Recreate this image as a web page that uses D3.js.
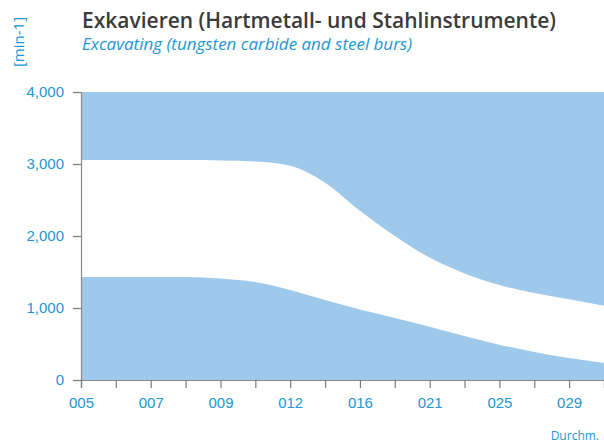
<!DOCTYPE html>
<html>
<head>
<meta charset="utf-8">
<script src="https://cdn.jsdelivr.net/npm/d3@7"></script>
<style>
  html, body { margin: 0; padding: 0; background: #ffffff; }
  svg { display: block; }
</style>
</head>
<body>
<script>
// Bur diameters (ISO size codes) along the x axis
const diameters = ["005","006","007","008","009","010","012","014","016","018","021","023","025","027","029","031"];
// Upper limit of the recommended speed window (min-1)
const upperSpeed = [3055,3055,3055,3055,3050,3035,2975,2740,2350,2000,1700,1480,1320,1210,1120,1030];
// Lower limit of the recommended speed window (min-1)
const lowerSpeed = [1430,1430,1430,1430,1410,1360,1250,1110,980,860,740,610,490,390,305,235];
const yTicks = [0,1000,2000,3000,4000];
const yMax = 4000;

const W = 604, H = 445;
const margin = {left: 81, right: 0, top: 92, bottom: 65};
const blue = "#9fc9ea";
const textBlue = "#2396d6";

const svg = d3.select("body").append("svg").attr("width", W).attr("height", H);

const x = d3.scalePoint().domain(diameters).range([margin.left, W - margin.right]);
const y = d3.scaleLinear().domain([0, yMax]).range([H - margin.bottom, margin.top]);

const rows = diameters.map((d, i) => ({d, up: upperSpeed[i], lo: lowerSpeed[i]}));

// Band above the window: from the upper limit to the top of the scale
const areaTop = d3.area()
  .x(r => x(r.d))
  .y0(r => y(r.up))
  .y1(() => y(yMax))
  .curve(d3.curveMonotoneX);

// Band below the window: from zero to the lower limit
const areaBottom = d3.area()
  .x(r => x(r.d))
  .y0(() => y(0))
  .y1(r => y(r.lo))
  .curve(d3.curveMonotoneX);

svg.append("path").datum(rows).attr("d", areaTop).attr("fill", blue);
svg.append("path").datum(rows).attr("d", areaBottom).attr("fill", blue);

// Y axis
const yAxis = d3.axisLeft(y).tickValues(yTicks).tickSize(8).tickPadding(9)
  .tickFormat(v => d3.format(",")(v));
const gy = svg.append("g").attr("transform", `translate(${margin.left},0)`).call(yAxis);
gy.select(".domain").attr("stroke", "#8a8a8a").attr("stroke-width", 1.2);
gy.selectAll(".tick line").attr("stroke", "#7a7a7a").attr("stroke-width", 1.2);
gy.selectAll(".tick text").attr("fill", textBlue)
  .style("font-family", "'Liberation Sans', Arial, sans-serif").style("font-size", "15px");

// X axis
const xAxis = d3.axisBottom(x).tickSize(8).tickPadding(9)
  .tickFormat((d, i) => i % 2 === 0 ? d : "");
const gx = svg.append("g").attr("transform", `translate(0,${H - margin.bottom})`).call(xAxis);
gx.select(".domain").attr("stroke", "#8a8a8a").attr("stroke-width", 1.2);
gx.selectAll(".tick line").attr("stroke", "#7a7a7a").attr("stroke-width", 1.2);
gx.selectAll(".tick text").attr("fill", textBlue)
  .style("font-family", "'Liberation Sans', Arial, sans-serif").style("font-size", "15px");

// Titles
svg.append("text").attr("x", 82).attr("y", 28)
  .attr("fill", "#3b3b3b")
  .attr("textLength", 474).attr("lengthAdjust", "spacingAndGlyphs")
  .style("font-family", "'Open Sans', 'DejaVu Sans', sans-serif")
  .style("font-size", "21px").style("font-weight", "600")
  .text("Exkavieren (Hartmetall- und Stahlinstrumente)");

svg.append("text").attr("x", 82).attr("y", 50)
  .attr("fill", textBlue)
  .attr("textLength", 330).attr("lengthAdjust", "spacingAndGlyphs")
  .style("font-family", "'Open Sans', 'DejaVu Sans', sans-serif")
  .style("font-size", "15.5px").style("font-style", "italic").style("font-weight", "500")
  .text("Excavating (tungsten carbide and steel burs)");

// Unit label
svg.append("text")
  .attr("transform", "translate(24,42) rotate(-90)")
  .attr("text-anchor", "middle")
  .attr("fill", textBlue)
  .style("font-family", "'Open Sans', 'DejaVu Sans', sans-serif")
  .style("font-size", "15px")
  .text("[min-1]");

// Axis caption
svg.append("text").attr("x", 599).attr("y", 440)
  .attr("text-anchor", "end")
  .attr("fill", textBlue)
  .style("font-family", "'Open Sans', 'DejaVu Sans', sans-serif")
  .style("font-size", "12px")
  .text("Durchm.");
</script>
</body>
</html>
